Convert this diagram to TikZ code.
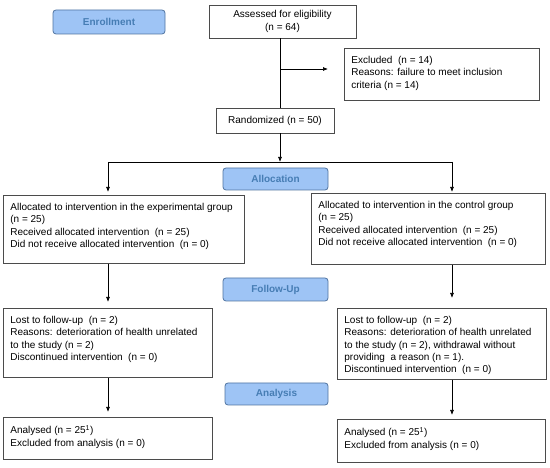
\documentclass[tikz,border=0pt]{standalone}
\usepackage{fontspec}
\setmainfont{Liberation Sans}
\usetikzlibrary{arrows.meta}

\definecolor{stagefill}{RGB}{158,196,245}
\definecolor{stageline}{RGB}{80,115,160}
\definecolor{stagetext}{RGB}{70,125,180}
\definecolor{boxline}{RGB}{75,75,75}

\begin{document}
\begin{tikzpicture}[x=1pt,y=-1pt,>={Latex[length=5pt,width=4pt]}]

\def\fnt{\fontsize{10}{12.3}\selectfont}
\def\boxtext#1#2#3{\parbox[c][#2pt][t]{#1pt}{\raggedright #3}}
\tikzstyle{stage} = [
	draw=stageline, fill=stagefill, rounded corners=3pt, line width=.8pt,
	text=stagetext, font=\fnt\bfseries,
	minimum width=105pt, minimum height=22pt ];
\tikzstyle{box} = [
	draw=boxline, rectangle, line width=.8pt, font=\fnt,
	anchor=north west, inner xsep=7pt, inner ysep=8pt ];
\tikzstyle{plain} = [draw=boxline, rectangle, line width=.8pt, font=\fnt, align=center];
\tikzstyle{flow} = [->, line width=.7pt];
\useasboundingbox (0,0) rectangle (550,468);

% stage labels
\node[stage,minimum width=112pt,minimum height=24pt] (enrol) at (109,22) {Enrollment};
\node[stage] (alloc) at (275.5,179) {Allocation};
\node[stage,minimum height=23pt] (follow) at (275.5,289.5) {Follow-Up};
\node[stage,minimum width=103pt] (analysis) at (276.5,394) {Analysis};

% enrollment
\node[plain,minimum width=147pt,minimum height=33pt] (assess) at (282.5,21.5)
	{Assessed for eligibility\\(n = 64)};
\node[box] (excl) at (344,48) {\boxtext{181}{36}{Excluded\ \ (n = 14)\\
	Reasons: failure to meet inclusion\\criteria (n = 14)}};
\node[plain,minimum width=118pt,minimum height=25pt] (rand) at (275,120.5)
	{Randomized (n = 50)};

% allocation
\node[box] (allocL) at (3,195) {\boxtext{227}{52}{Allocated to intervention in the experimental group\\
	(n = 25)\\Received allocated intervention\ \ (n = 25)\\
	Did not receive allocated intervention\ \ (n = 0)}};
\node[box] (allocR) at (311,193) {\boxtext{220}{55}{Allocated to intervention in the control group\\
	(n = 25)\\Received allocated intervention\ \ (n = 25)\\
	Did not receive allocated intervention\ \ (n = 0)}};

% follow-up
\node[box] (followL) at (3,308) {\boxtext{195}{53}{Lost to follow-up\ \ (n = 2)\\
	Reasons: deterioration of health unrelated\\to the study (n = 2)\\
	Discontinued intervention\ \ (n = 0)}};
\node[box] (followR) at (337,308) {\boxtext{195}{55}{Lost to follow-up\ \ (n = 2)\\
	Reasons: deterioration of health unrelated\\to the study (n = 2), withdrawal without\\
	providing\ \ a reason (n = 1).\\Discontinued intervention\ \ (n = 0)}};

% analysis
\node[box] (anaL) at (3,417) {\boxtext{195}{26}{Analysed (n = 25\textsuperscript{1})\\
	Excluded from analysis (n = 0)}};
\node[box] (anaR) at (337,419) {\boxtext{194}{27}{Analysed (n = 25\textsuperscript{1})\\
	Excluded from analysis (n = 0)}};

% connectors
\coordinate (spine) at (280,0);
\coordinate (fork) at (280,69);
\coordinate (split) at (280,162);
\coordinate (colL) at (108,0);
\coordinate (colR) at (452,0);

\draw[line width=.7pt] (assess.south -| spine) -- (rand.north -| spine);
\draw[flow,shorten >=16pt] (fork) -- (fork -| excl.west);
\draw[flow] (rand.south -| spine) -- (split);
\draw[line width=.7pt] (split -| colL) -- (split -| colR);
\draw[flow,shorten >=3pt] (split -| colL) -- (allocL.north -| colL);
\draw[flow,shorten >=1pt] (split -| colR) -- (allocR.north -| colR);
\draw[flow,shorten >=6pt] (allocL.south -| colL) -- (followL.north -| colL);
\draw[flow,shorten >=10pt] (allocR.south -| colR) -- (followR.north -| colR);
\draw[flow,shorten >=5pt] (followL.south -| colL) -- (anaL.north -| colL);
\draw[flow,shorten >=4pt] (followR.south -| colR) -- (anaR.north -| colR);

\end{tikzpicture}
\end{document}
